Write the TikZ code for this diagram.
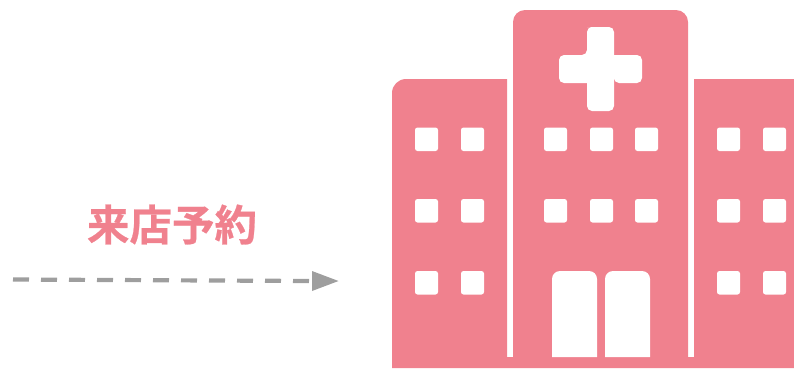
\documentclass[tikz,border=0pt]{standalone}
\usepackage{fontspec}
\newfontfamily\cjk[FakeBold=0.6]{Noto Sans CJK JP Bold}
\definecolor{hosp}{HTML}{F0818E}
\definecolor{arr}{HTML}{9E9E9E}
\tikzset{
  win/.style={fill=white,rounded corners=2.5pt},
  bld/.style={fill=hosp},
  flow/.style={draw=arr,line width=4.2pt,dash pattern=on 16pt off 12pt},
  head/.style={fill=arr},
  lab/.style={text=hosp,font=\cjk\fontsize{42.5}{43}\selectfont,inner sep=0pt}
}
\newcommand{\winrow}[2]{\foreach \wx in {#1} \foreach \wy in {#2} \fill[win] (\wx,\wy) rectangle ++(23,23.5);}
\begin{document}
\begin{tikzpicture}[x=1pt,y=-1pt]
\useasboundingbox (0,0) rectangle (794,368);
% buildings
\fill[bld] (392,368) -- (392,93) arc[start angle=180,end angle=90,x radius=14,y radius=-14] -- (507,79) -- (507,357) -- (513,357) -- (513,22) arc[start angle=180,end angle=90,x radius=12,y radius=-12] -- (676,10) arc[start angle=90,end angle=0,x radius=12,y radius=-12] -- (688,357) -- (694,357) -- (694,79) -- (794,79) -- (794,368) -- cycle;
% cross
\fill[white,rounded corners=5pt] (587,27) -- (614,27) -- (614,55) [sharp corners] -- (614,55) [rounded corners=5pt] -- (642,55) -- (642,83) -- (614,83) [sharp corners] -- (614,83) [rounded corners=5pt] -- (614,111) -- (587,111) -- (587,83) [sharp corners] -- (587,83) [rounded corners=5pt] -- (559,83) -- (559,55) -- (587,55) [sharp corners] -- (587,55) -- (587,40) [rounded corners=5pt] -- (587,27) -- (600,27);
% windows
\winrow{415,461}{127.5,199,271}
\winrow{544,590,635}{127.5,199}
\winrow{717,763}{127.5,199,271}
% doors
\fill[white,rounded corners=8pt] (552,357) [sharp corners] -- (552,300) [rounded corners=8pt] -- (552,271) -- (597,271) -- (597,300) [sharp corners] -- (597,357) -- cycle;
\fill[white,rounded corners=8pt] (605,357) [sharp corners] -- (605,300) [rounded corners=8pt] -- (605,271) -- (650,271) -- (650,300) [sharp corners] -- (650,357) -- cycle;
% label
\node[lab] (label) at (172,224.5) {来店予約};
% arrow
\coordinate (from) at (13,279.5);
\coordinate (to) at (312,281);
\coordinate (tip) at (338.5,281);
\draw[flow] (from) -- (to);
\fill[head] (312,271) -- (tip) -- (312,291) -- cycle;
\end{tikzpicture}
\end{document}
